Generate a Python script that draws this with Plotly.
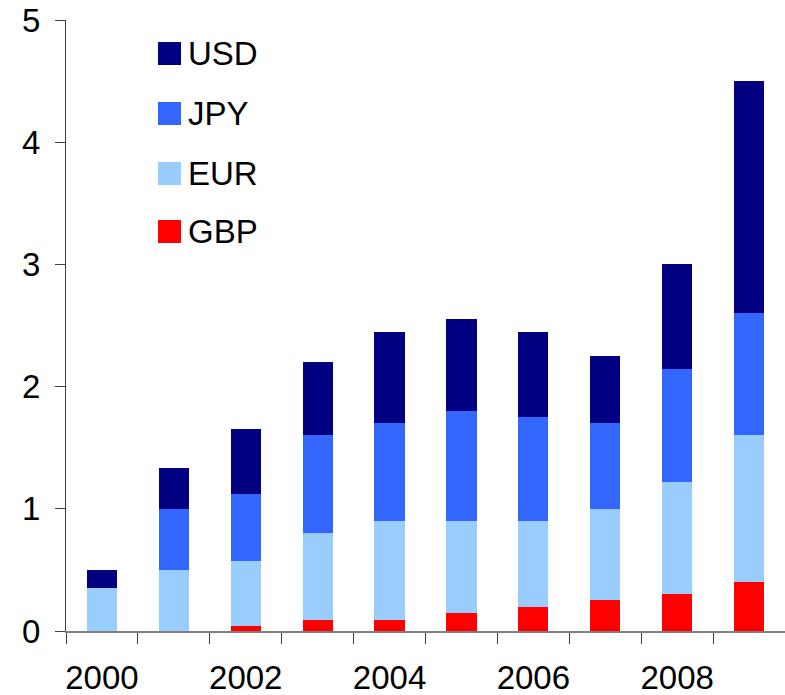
import plotly.graph_objects as go

years = ["2000", "2001", "2002", "2003", "2004", "2005", "2006", "2007", "2008", "2009"]
tick_labels = ["2000", "", "2002", "", "2004", "", "2006", "", "2008", ""]
gbp = [0.0, 0.0, 0.04, 0.09, 0.09, 0.15, 0.20, 0.25, 0.30, 0.40]
eur = [0.35, 0.50, 0.53, 0.71, 0.81, 0.75, 0.70, 0.75, 0.92, 1.20]
jpy = [0.0, 0.50, 0.55, 0.80, 0.80, 0.90, 0.85, 0.70, 0.92, 1.00]
usd = [0.15, 0.33, 0.53, 0.60, 0.75, 0.75, 0.70, 0.55, 0.86, 1.90]

series_names = ["GBP", "EUR", "JPY", "USD"]
series_values = [gbp, eur, jpy, usd]
series_colors = ["#FF0000", "#99CCFF", "#3366FF", "#000080"]

# body margin removed below, so the figure fills the window; plot area at x 66..785, y 20..631
W, H = 785, 695
ML, MR, MT, MB = 66, 0, 20, 64
PW, PH = W - ML - MR, H - MT - MB
PX0, PY1 = ML, MT + PH
FONT = "Liberation Sans, Arial, sans-serif"
FS = 33


def px_to_paper_x(px):
    return (px - PX0) / PW


def px_to_paper_y(py):
    return (PY1 - py) / PH


fig = go.Figure()
for name, vals, col in zip(series_names, series_values, series_colors):
    fig.add_trace(go.Bar(x=years, y=vals, name=name, marker=dict(color=col, line=dict(width=0)),
                         showlegend=False))

# manual legend (USD on top)
legend_top_px = [42, 102, 162, 220]
for (name, col), top in zip(list(zip(series_names, series_colors))[::-1], legend_top_px):
    fig.add_shape(type="rect", xref="paper", yref="paper",
                  x0=px_to_paper_x(158), x1=px_to_paper_x(181),
                  y0=px_to_paper_y(top + 23), y1=px_to_paper_y(top),
                  fillcolor=col, line=dict(width=0))
    fig.add_annotation(xref="paper", yref="paper", x=px_to_paper_x(186), y=px_to_paper_y(top + 11.5),
                       text=name, showarrow=False, xanchor="left", yanchor="middle",
                       font=dict(size=FS, color="#000000", family=FONT))

fig.update_layout(
    barmode="stack",
    bargap=0.58,
    width=W, height=H,
    margin=dict(l=ML, r=MR, t=MT, b=MB, autoexpand=False),
    plot_bgcolor="white", paper_bgcolor="white",
    font=dict(family=FONT, size=FS, color="#000000"),
    showlegend=False,
)
fig.update_xaxes(
    type="category", tickmode="array", tickvals=years, ticktext=tick_labels,
    tickson="boundaries", ticks="outside", ticklen=11, tickcolor="#404040", tickwidth=1,
    showline=True, linecolor="#808080", linewidth=2, showgrid=False,
    tickfont=dict(size=FS, family=FONT), range=[-0.5, 9.5], tickangle=0, automargin=False,
    ticklabelstandoff=16, ticklabeloverflow="allow",
)
fig.update_yaxes(
    range=[0, 5], tickvals=[0, 1, 2, 3, 4, 5], ticks="outside", ticklen=10,
    tickcolor="#404040", showline=True, linecolor="#404040", linewidth=1,
    showgrid=False, zeroline=False, tickfont=dict(size=FS, family=FONT),
    ticklabelstandoff=8, automargin=False, ticklabeloverflow="allow",
)
fig.write_html("out.html", config={"displayModeBar": False},
               post_script="document.body.style.margin='0';document.body.style.overflow='hidden';")
